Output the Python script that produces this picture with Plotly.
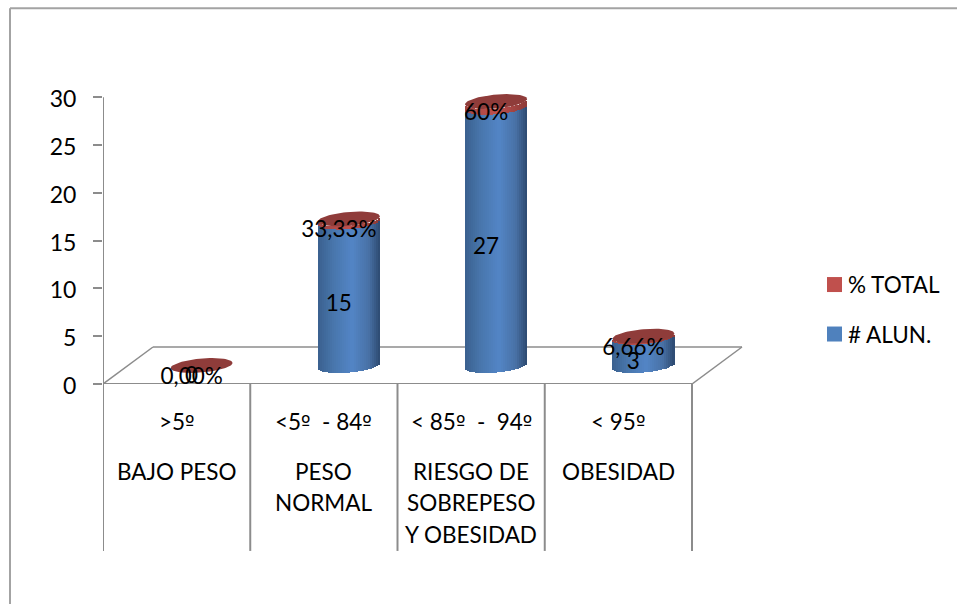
import numpy as np
import plotly.graph_objects as go

# Chart data
groups = ["BAJO PESO", "PESO NORMAL", "RIESGO DE SOBREPESO Y OBESIDAD", "OBESIDAD"]
ranges = [">5º", "<5º  - 84º", "< 85º  -  94º", "< 95º"]
group_lines = [["BAJO PESO"], ["PESO", "NORMAL"], ["RIESGO DE", "SOBREPESO", "Y OBESIDAD"], ["OBESIDAD"]]
alumnos = [0, 15, 27, 3]
pct_total = [0, 0.3333, 0.60, 0.0666]
pct_labels = ["0,00%", "33,33%", "60%", "6,66%"]
y_ticks = [0, 5, 10, 15, 20, 25, 30]
series_names = ["% TOTAL", "# ALUN."]
series_colors = ["#c0504d", "#4f81bd"]

WIDTH, HEIGHT = 957, 604
UNIT_PX = (384 - 97) / 30
LEFT, RIGHT, BOTTOM = 103, 743, 384
Y_MAX = 32  # head room so the tallest cap is not clipped; the axis line stops at 30
TOP = BOTTOM - Y_MAX * UNIT_PX
CAT_PX = 147.25
GRAY = "#8c8c8c"
FONT = "Lato"
FONT_SIZE = 22.5


def paper_x(px):
    return (px - LEFT) / (RIGHT - LEFT)


def paper_y(py):
    return (BOTTOM - py) / (BOTTOM - TOP)


def ramp(stops, t):
    """Linear colour ramp over (position, (r, g, b)) stops."""
    pos = [s[0] for s in stops]
    rgb = [np.interp(t, pos, [s[1][k] for s in stops]) for k in range(3)]
    return "rgb(%d,%d,%d)" % tuple(int(round(c)) for c in rgb)


BLUE_RAMP = [(0, (58, 96, 142)), (0.25, (72, 118, 172)), (0.55, (83, 133, 198)),
             (0.82, (72, 113, 165)), (1, (44, 74, 112))]
RED_RAMP = [(0, (160, 68, 66)), (0.5, (192, 80, 77)), (1, (140, 58, 56))]

# Cylinder geometry, in axis units
x_slots = np.arange(len(alumnos), dtype=float)
DEPTH_X = 25 / CAT_PX
DEPTH_Y = (BOTTOM - 365.5) / UNIT_PX
RADIUS = 31 / CAT_PX
CAP_B = 7 / UNIT_PX
CAP_TILT = 2.6 / UNIT_PX
N_STRIPS = 31

fig = go.Figure()

# Each cylinder is a row of thin bars, shaded across its width with a curved foot
strip_w = 2 * RADIUS / N_STRIPS
for j in range(N_STRIPS):
    t = (j + 0.5) / N_STRIPS
    u = 2 * t - 1
    curve = -CAP_B * np.sqrt(1 - u * u) + CAP_TILT * u
    xs = x_slots + DEPTH_X + u * RADIUS
    foot = DEPTH_Y + curve
    fig.add_trace(go.Bar(
        x=xs, y=alumnos, base=[foot] * len(alumnos), width=strip_w * 1.12, name=series_names[1],
        marker=dict(color=ramp(BLUE_RAMP, t), line_width=0), showlegend=False,
    ))
    fig.add_trace(go.Bar(
        x=xs, y=pct_total, base=[foot + v for v in alumnos], width=strip_w * 1.12, name=series_names[0],
        marker=dict(color=ramp(RED_RAMP, t), line_width=0), showlegend=False,
    ))

# Tilted elliptical top face of each cylinder
theta = np.linspace(0, 2 * np.pi, 73)
for cx, a, p in zip(x_slots, alumnos, pct_total):
    fig.add_trace(go.Scatter(
        x=cx + DEPTH_X + RADIUS * np.cos(theta),
        y=DEPTH_Y + a + p + CAP_B * np.sin(theta) + CAP_TILT * np.cos(theta),
        mode="lines", fill="toself", fillcolor="#8f3c3a", line=dict(width=0),
        showlegend=False,
    ))

# Value labels
label_font = dict(family=FONT, size=FONT_SIZE, color="black")
label_x = x_slots + 15 / CAT_PX
fig.add_trace(go.Scatter(
    x=label_x, y=[a / 2 + 0.7 for a in alumnos], mode="text",
    text=[str(a) for a in alumnos], textposition="middle center",
    textfont=label_font, showlegend=False, cliponaxis=False,
))
fig.add_trace(go.Scatter(
    x=label_x, y=[a + p + 0.6 for a, p in zip(alumnos, pct_total)], mode="text",
    text=pct_labels, textposition="middle center",
    textfont=label_font, showlegend=False, cliponaxis=False,
))

shapes = []


def line(**kw):
    width = kw.pop("width", 2)
    shapes.append(dict(type="line", line=dict(color=kw.pop("color", GRAY), width=width), **kw))


# Chart frame: top and left edges only
line(xref="paper", yref="paper", x0=paper_x(10), x1=paper_x(WIDTH), y0=paper_y(8), y1=paper_y(8), color="#a3a3a3")
line(xref="paper", yref="paper", x0=paper_x(10), x1=paper_x(10), y0=paper_y(8), y1=paper_y(HEIGHT), color="#a3a3a3")

# Floor parallelogram
floor_dx = 50 / CAT_PX
floor_dy = (BOTTOM - 347) / UNIT_PX
x_left, x_right = -0.5, len(alumnos) - 0.5
line(xref="x", yref="y", x0=x_left, x1=x_left + floor_dx, y0=0, y1=floor_dy, layer="below", width=1.5)
line(xref="x", yref="y", x0=x_left + floor_dx, x1=x_right + floor_dx, y0=floor_dy, y1=floor_dy, layer="below", width=1.5)
line(xref="x", yref="y", x0=x_right, x1=x_right + floor_dx, y0=0, y1=floor_dy, layer="below", width=1.5)
line(xref="x", yref="y", x0=x_left, x1=x_right, y0=0, y1=0, layer="below")

# Vertical axis line from 0 to the top tick
line(xref="x", yref="y", x0=x_left, x1=x_left, y0=0, y1=max(y_ticks), layer="below")

# Category dividers below the floor
for k in range(len(alumnos) + 1):
    line(xref="x", yref="paper", x0=x_left + k, x1=x_left + k, y0=0, y1=paper_y(551))

# Two-level category labels; the ordinal mark comes from a face that draws it underlined
ORDINAL = '<span style="font-family:DejaVu Sans;font-size:20px">º</span>'
annotations = []
for cx, r, lines in zip(x_slots, ranges, group_lines):
    annotations.append(dict(x=cx, y=0, xref="x", yref="paper", text=r.replace("º", ORDINAL), yshift=-37,
                            showarrow=False, yanchor="middle", font=label_font))
    for n, txt in enumerate(lines):
        annotations.append(dict(x=cx, y=0, xref="x", yref="paper", text=txt, yshift=-(87 + n * 31.5),
                                showarrow=False, yanchor="middle", font=label_font))

# Key on the right: a colour square and a name per series
for name, color, row_y in zip(series_names, series_colors, [284.5, 334]):
    shapes.append(dict(type="rect", xref="paper", yref="paper", x0=paper_x(827), x1=paper_x(842),
                       y0=paper_y(row_y - 7.5), y1=paper_y(row_y + 7.5), fillcolor=color, line_width=0))
    annotations.append(dict(x=paper_x(846), y=paper_y(row_y), xref="paper", yref="paper", text=name,
                            showarrow=False, xanchor="left", yanchor="middle", font=label_font))

fig.update_layout(
    width=WIDTH, height=HEIGHT, autosize=False,
    margin=dict(l=LEFT, r=WIDTH - RIGHT, t=TOP, b=HEIGHT - BOTTOM, pad=0),
    paper_bgcolor="white", plot_bgcolor="white",
    barmode="overlay", hovermode=False, bargap=0, showlegend=False,
    shapes=shapes, annotations=annotations,
    font=dict(family=FONT, size=FONT_SIZE, color="black"),
    xaxis=dict(range=[x_left, x_left + (RIGHT - LEFT) / CAT_PX], showticklabels=False, ticks="",
               showgrid=False, zeroline=False, showline=False),
    yaxis=dict(range=[0, Y_MAX], tickvals=y_ticks, ticks="outside", ticklen=9, tickwidth=2, tickcolor=GRAY,
               ticklabelstandoff=12, ticklabelshift=2, showline=False,
               showgrid=False, zeroline=False,
               tickfont=dict(family=FONT, size=23, color="black")),
)

fig.write_html("out.html")
